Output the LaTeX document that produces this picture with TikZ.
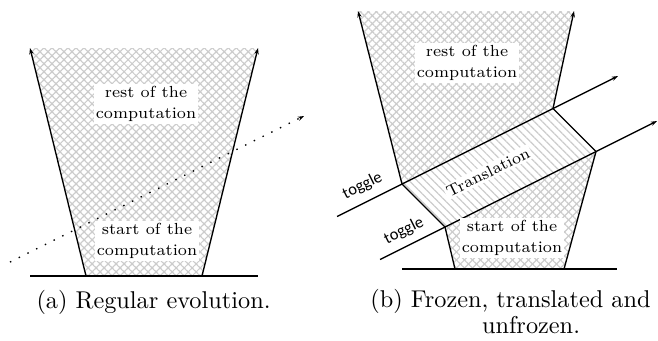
\documentclass[tikz,border=0pt]{standalone}
\usepackage{fontspec}
\newfontfamily\togglefont{Carlito}
\usetikzlibrary{patterns.meta,arrows.meta}
\begin{document}
\begin{tikzpicture}[x=0.4115pt,y=-0.4115pt,
  edge/.style={line width=0.55pt},
  arr/.style={edge,-{Stealth[length=2.6pt,width=1.8pt]}},
  dotarr/.style={line width=0.55pt,dash pattern=on 0.6pt off 3.4pt,-{Stealth[length=2.6pt,width=1.8pt]}},
  hatchA/.style={pattern={Lines[angle=45,distance=2.33pt,line width=0.5pt]},pattern color=gray!40},
  hatchB/.style={pattern={Lines[angle=-45,distance=2.33pt,line width=0.5pt]},pattern color=gray!40},
  lbl/.style={fill=white,inner sep=0.8pt,align=center,font=\fontsize{6.6}{8.6}\selectfont},
  tog/.style={font=\togglefont\fontsize{6.8}{8}\selectfont,inner sep=0pt,rotate=26.57},
  captext/.style={font=\fontsize{10}{12}\selectfont,anchor=base,inner sep=0pt}]
\useasboundingbox (0,0) rectangle (658,340);

% ---------- (a) regular evolution ----------
\coordinate (aB1) at (30,276);
\coordinate (aB2) at (258,276);
\coordinate (aL0) at (86,276);
\coordinate (aL1) at (30,48);
\coordinate (aR0) at (202,276);
\coordinate (aR1) at (258,48);
\coordinate (aD0) at (10,262);
\coordinate (aD1) at (304,116);
\fill[hatchA] (aL0)--(aR0)--(aR1)--(aL1)--cycle;
\fill[hatchB] (aL0)--(aR0)--(aR1)--(aL1)--cycle;
\draw[edge] (aB1)--(aB2);
\draw[arr] (aL0)--(aL1);
\draw[arr] (aR0)--(aR1);
\draw[dotarr] (aD0)--(aD1);
\node[lbl] (aRest) at (146,104) {rest of the\\computation};
\node[lbl] (aStart) at (147,241) {start of the\\computation};
\node[captext] (aCap) at (153.5,308) {(a) Regular evolution.};

% ---------- (b) frozen, translated, unfrozen ----------
\coordinate (bB1) at (402,269);
\coordinate (bB2) at (617,269);
\coordinate (P1) at (455,269);
\coordinate (P2) at (564,269);
\coordinate (P3) at (596,151.5);
\coordinate (P4) at (445,227);
\coordinate (Q1) at (402,184);
\coordinate (Q2) at (553,108.5);
\coordinate (Q3) at (574,11);
\coordinate (Q4) at (358,11);
\coordinate (T1s) at (337,216.5);
\coordinate (T1e) at (618,76);
\coordinate (T2s) at (380,259.5);
\coordinate (T2e) at (657,121);

\fill[hatchA] (P1)--(P2)--(P3)--(P4)--cycle;
\fill[hatchB] (P1)--(P2)--(P3)--(P4)--cycle;
\fill[hatchA] (Q1)--(Q2)--(Q3)--(Q4)--cycle;
\fill[hatchB] (Q1)--(Q2)--(Q3)--(Q4)--cycle;
\fill[hatchB] (Q1)--(Q2)--(P3)--(P4)--cycle;

\draw[edge] (bB1)--(bB2);
\draw[edge] (P1)--(P4);
\draw[edge] (P2)--(P3);
\draw[edge] (Q1)--(P4);
\draw[edge] (Q2)--(P3);
\draw[arr] (Q1)--(Q4);
\draw[arr] (Q2)--(Q3);
\draw[arr] (T1s)--(T1e);
\draw[arr] (T2s)--(T2e);

\node[tog] (tog1) at (362.5,186) {toggle};
\node[tog] (tog2) at (404,231) {toggle};
\node[lbl] (bRest) at (467,63) {rest of the\\computation};
\node[lbl,rotate=26.57] (bTrans) at (488,172) {Translation};
\node[lbl] (bStart) at (512,238) {start of the\\computation};
\node[captext] (bCap1) at (510.5,307) {(b) Frozen, translated and};
\node[captext] (bCap2) at (531,333) {unfrozen.};
\end{tikzpicture}
\end{document}
